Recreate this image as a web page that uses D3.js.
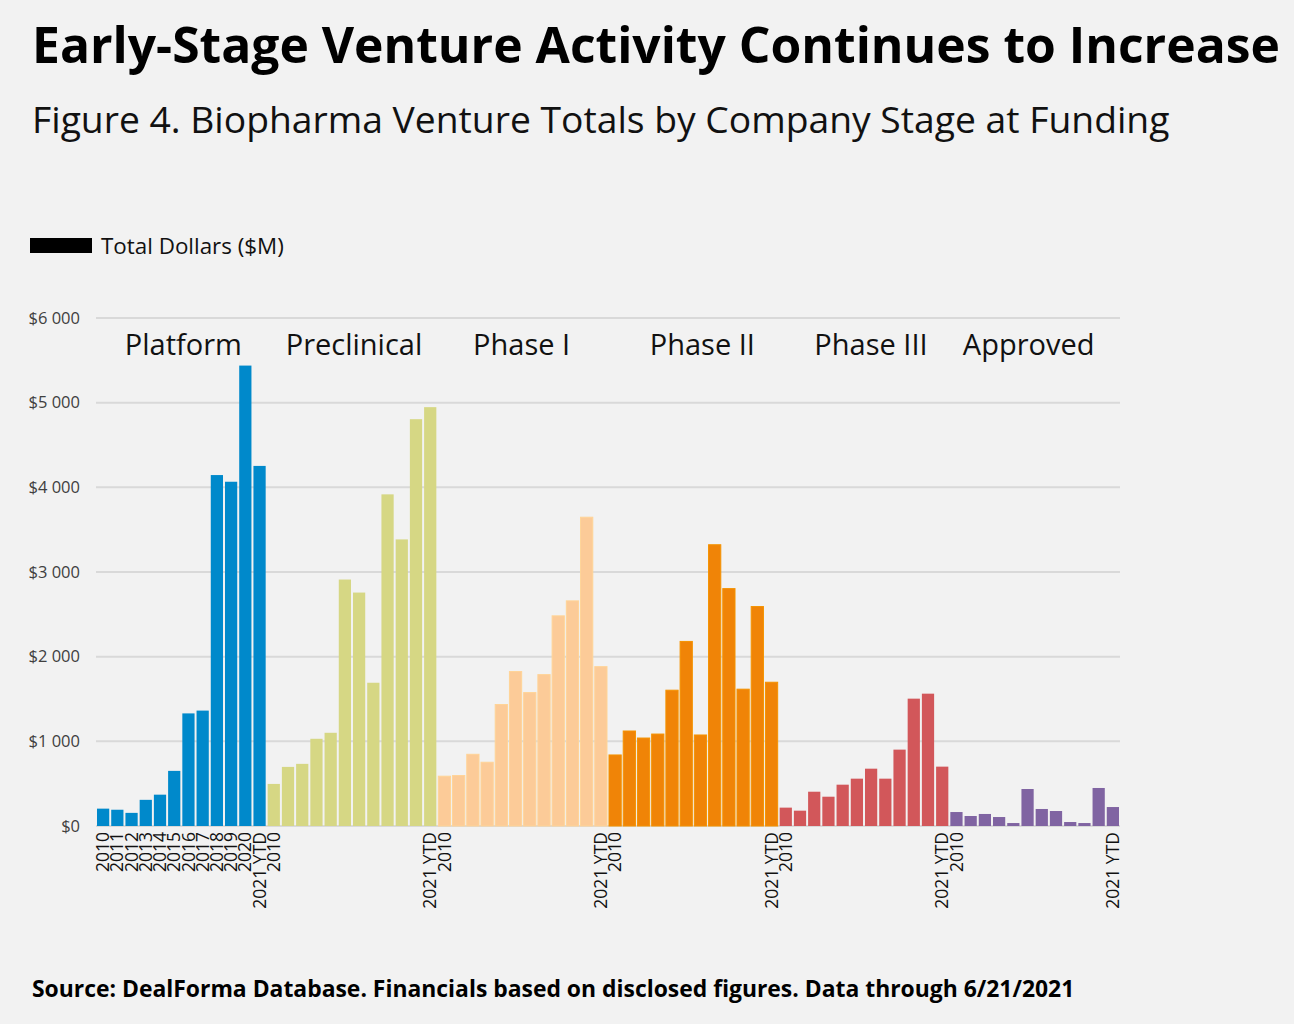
<!DOCTYPE html>
<html><head><meta charset="utf-8">
<script src="https://cdn.jsdelivr.net/npm/d3@7"></script>
<style>
html,body{margin:0;padding:0;background:#f2f2f2;}
svg{display:block;font-family:"Open Sans",sans-serif;}
</style></head>
<body><svg id="c" width="1294" height="1024"></svg>
<script>
const stages = ["Platform","Preclinical","Phase I","Phase II","Phase III","Approved"];
const years = ["2010","2011","2012","2013","2014","2015","2016","2017","2018","2019","2020","2021 YTD"];
const platform    = [205,192,155,309,370,651,1330,1363,4145,4066,5438,4253];
const preclinical = [497,698,734,1030,1101,2911,2757,1692,3917,3385,4805,4947];
const phase1      = [588,596,847,753,1435,1824,1576,1788,2482,2659,3647,1882];
const phase2      = [839,1122,1039,1086,1604,2180,1075,3322,2804,1616,2592,1698];
const phase3      = [217,181,405,346,488,559,677,559,902,1504,1563,701];
const approved    = [165,118,142,106,35,437,201,177,47,35,449,224];
const yTicks = [0,1000,2000,3000,4000,5000,6000];
const colors = ["#0089cb","#d6d784","#fccb98","#f08407","#d2575a","#8064a2"];
const strokes = ["none","none","#ffd497","#f59300","none","none"];
const labelShift = [2,2,-1,9,7,-6];

const series = [platform,preclinical,phase1,phase2,phase3,approved];
const data = [];
stages.forEach((s,i)=>years.forEach((y,j)=>data.push({stage:s,si:i,year:y,yi:j,value:series[i][j],key:s+"|"+y})));

const svg = d3.select("#c");
svg.append("rect").attr("width",1294).attr("height",1024).attr("fill","#f2f2f2");

const x = d3.scaleBand().domain(data.map(d=>d.key)).range([96,1120]).paddingInner(0.14).paddingOuter(0.07);
const y = d3.scaleLinear().domain([0,6000]).range([826,318]);
const loc = d3.formatLocale({decimal:".",thousands:" ",grouping:[3],currency:["$",""]});
const fmt = loc.format("$,.0f");

// gridlines
svg.append("g").selectAll("line").data(yTicks).join("line")
  .attr("x1",96).attr("x2",1120).attr("y1",d=>y(d)).attr("y2",d=>y(d))
  .attr("stroke","#d9d9d9").attr("stroke-width",2);

// y labels
svg.append("g").selectAll("text").data(yTicks).join("text")
  .attr("x",80).attr("y",d=>y(d)).attr("dy","0.35em").attr("text-anchor","end")
  .attr("font-size",16.5).attr("fill","#404040").text(d=>fmt(d));

// bars
svg.append("g").selectAll("rect").data(data).join("rect")
  .attr("x",d=>x(d.key)).attr("width",x.bandwidth())
  .attr("y",d=>y(d.value)).attr("height",d=>y(0)-y(d.value))
  .attr("fill",d=>colors[d.si])
  .attr("stroke",d=>strokes[d.si]).attr("stroke-width",1);

// x labels
const labelled = data.filter(d=>d.si===0 || d.yi===0 || d.yi===11);
svg.append("g").selectAll("text").data(labelled).join("text")
  .attr("transform",d=>`translate(${x(d.key)+x.bandwidth()/2},832) rotate(-90)`)
  .attr("dy","0.35em").attr("text-anchor","end").attr("font-size",17.5).attr("fill","#111")
  .text(d=>d.year);

// group labels
svg.append("g").selectAll("text").data(stages).join("text")
  .attr("x",(s,i)=>{const a=x(s+"|2010"), b=x(s+"|2021 YTD")+x.bandwidth(); return (a+b)/2+labelShift[i];})
  .attr("y",355).attr("text-anchor","middle").attr("font-size",29).attr("fill","#111")
  .text(d=>d);

// title
function fit(sel,w){const n=sel.node();const l=n.getComputedTextLength();const fs=parseFloat(sel.attr("font-size"));sel.attr("font-size",fs*w/l);}
const t = svg.append("text").attr("x",32).attr("y",63).attr("font-size",48).attr("font-weight",700).attr("fill","#000")
  .text("Early-Stage Venture Activity Continues to Increase");
fit(t,1248);
const st = svg.append("text").attr("x",32).attr("y",133).attr("font-size",36).attr("fill","#111")
  .text("Figure 4. Biopharma Venture Totals by Company Stage at Funding");
fit(st,1138);

// legend
svg.append("rect").attr("x",30).attr("y",238).attr("width",62).attr("height",15).attr("fill","#000");
const lg = svg.append("text").attr("x",101).attr("y",254).attr("font-size",20).attr("fill","#111").text("Total Dollars ($M)");
fit(lg,183);

// source
const src = svg.append("text").attr("x",32).attr("y",997).attr("font-size",22).attr("font-weight",700).attr("fill","#000")
  .text("Source: DealForma Database. Financials based on disclosed figures. Data through 6/21/2021");
fit(src,1043);
</script></body></html>
